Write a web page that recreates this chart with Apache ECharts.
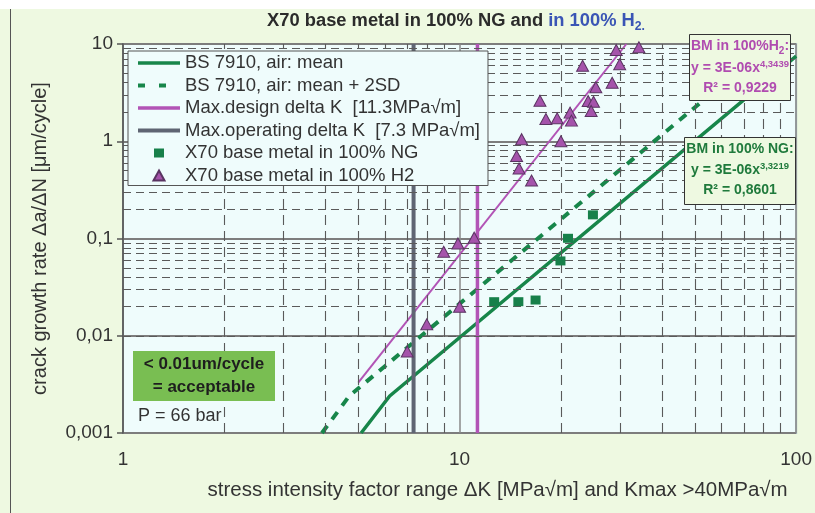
<!DOCTYPE html>
<html>
<head>
<meta charset="utf-8">
<script src="https://cdn.jsdelivr.net/npm/echarts@6/dist/echarts.min.js"></script>
<style>html,body{margin:0;padding:0;background:#fff}#c{width:815px;height:513px}</style>
</head>
<body>
<div id="c"></div>
<script>
// ---------- data ----------
const xRange = [1, 100];
const yRange = [0.001, 10];
const minorSteps = [2, 3, 4, 5, 6, 7, 8, 9];
const xDecades = [1, 10];
const yDecades = [0.001, 0.01, 0.1, 1];

const bsMean = [[5.1, 0.001], [6.2, 0.0024], [100, 7.5]];
const bsMean2SD = [[3.9, 0.001], [4.7, 0.0024], [84, 10]];
const designK = [[11.3, 0.001], [11.3, 10]];
const operatingK = [[7.3, 0.001], [7.3, 10]];
const h2Fit = [[5.0, 0.0033], [31.3, 10]];

const ngPoints = [
  [12.67, 0.0224], [14.95, 0.0224], [16.82, 0.0233],
  [19.94, 0.0588], [21.0, 0.1005], [24.9, 0.175]
];
const h2Points = [
  [6.99, 0.0069], [7.99, 0.0131], [10.0, 0.0199], [8.97, 0.073], [9.89, 0.089],
  [11.05, 0.102], [14.77, 0.705], [15.02, 0.525], [16.36, 0.394], [15.29, 1.05],
  [20.0, 1.0], [17.33, 2.61], [18.05, 1.69], [19.5, 1.72], [21.3, 1.97],
  [21.5, 1.63], [24.1, 2.59], [25.0, 2.55], [24.6, 2.05], [25.4, 3.59],
  [28.4, 4.0], [23.2, 5.98], [29.2, 8.68], [29.9, 6.18], [34.1, 9.25]
];

const names = {
  mean: 'BS 7910, air: mean',
  mean2: 'BS 7910, air: mean + 2SD',
  design: 'Max.design delta K  [11.3MPa\u221Am]',
  oper: 'Max.operating delta K  [7.3 MPa\u221Am]',
  ng: 'X70 base metal in 100% NG',
  h2: 'X70 base metal in 100% H2'
};

// ---------- styles ----------
const FONT = '"Liberation Sans", Arial, sans-serif';
const GREEN = '#17864a';
const PURPLE = '#b254b6';
const GREY = '#5f6573';
const TXT = '#333333';

const minorX = [];
xDecades.forEach(d => minorSteps.forEach(s => minorX.push(+(d * s).toPrecision(6))));
const minorY = [];
yDecades.forEach(d => minorSteps.forEach(s => minorY.push(+(d * s).toPrecision(6))));

const gridLineData = [
  ...minorX.map(v => ({ xAxis: v, lineStyle: { type: [10, 6] } })),
  ...minorY.map(v => ({ yAxis: v, lineStyle: { type: [8, 5] } }))
];

// legend icons: padded to the 42x10 icon box so shapes keep their size
const squareIcon = 'path://M0,0L0,0ZM42,10L42,10ZM16,0.5L26,0.5L26,9.5L16,9.5Z';
const triangleIcon = 'path://M0,0L0,0ZM42,10L42,10ZM21,0L26.5,10L15.5,10Z';

const chart = echarts.init(document.getElementById('c'), null, { renderer: 'canvas' });

const titleStr = 'X70 base metal in 100% NG and in 100% H2.';
const cv = document.createElement('canvas').getContext('2d');
cv.font = 'bold 18px "Liberation Sans"';
const titleScale = 383 / cv.measureText(titleStr).width;

const fmt = v => String(+(+v).toPrecision(6)).replace('.', ',');
const hideSym = { opacity: 0 };

const option = {
  backgroundColor: '#eef9e1',
  animation: false,
  textStyle: { fontFamily: FONT },
  grid: {
    left: 123, right: 16, top: 44, bottom: 80, show: true,
    backgroundColor: '#effcfc', borderColor: '#a9bcc4', borderWidth: 2
  },
  xAxis: {
    type: 'log', logBase: 10, min: xRange[0], max: xRange[1],
    axisLine: { show: false }, axisTick: { show: false },
    axisLabel: { fontSize: 19, color: TXT, margin: 17, fontFamily: FONT },
    splitLine: { show: true, lineStyle: { color: '#8a8a8a', width: 1.5 } },
    name: 'stress intensity factor range \u0394K [MPa\u221Am] and Kmax >40MPa\u221Am',
    nameLocation: 'middle', nameGap: 47,
    nameTextStyle: { fontSize: 20.5, color: TXT, fontFamily: FONT, padding: [0, 0, 0, 76] }
  },
  yAxis: {
    type: 'log', logBase: 10, min: yRange[0], max: yRange[1],
    axisLine: { show: true, lineStyle: { color: '#555', width: 1.5 } },
    axisTick: { show: true, length: 6, lineStyle: { color: '#555', width: 1.5 } },
    axisLabel: { fontSize: 19, color: TXT, margin: 10, fontFamily: FONT, formatter: fmt },
    splitLine: { show: true, lineStyle: { color: '#7d7d7d', width: 2 } },
    name: 'crack growth rate \u0394a/\u0394N [\u03BCm/cycle]',
    nameLocation: 'middle', nameGap: 73,
    nameTextStyle: { fontSize: 20, color: TXT, fontFamily: FONT }
  },
  legend: {
    orient: 'vertical', left: 128, top: 51, z: 20,
    padding: [2, 8, 0, 8], itemGap: 2.5, itemWidth: 42, itemHeight: 10,
    backgroundColor: '#effcfc', borderColor: '#555', borderWidth: 1, borderRadius: 0,
    textStyle: { fontSize: 18.5, color: TXT, fontFamily: FONT, lineHeight: 20 },
    lineStyle: { width: 'inherit' },
    selectedMode: false,
    data: [
      { name: names.mean, itemStyle: hideSym },
      { name: names.mean2, itemStyle: hideSym, lineStyle: { type: [7, 14] } },
      { name: names.design, itemStyle: hideSym },
      { name: names.oper, itemStyle: hideSym },
      { name: names.ng, icon: squareIcon },
      { name: names.h2, icon: triangleIcon }
    ]
  },
  series: [
    {
      name: 'grid', type: 'line', data: [], z: 1, silent: true,
      markLine: {
        silent: true, symbol: ['none', 'none'], label: { show: false },
        lineStyle: { color: '#5a5a5a', width: 1.1 },
        emphasis: { disabled: true },
        data: gridLineData
      }
    },
    {
      name: names.mean2, type: 'line', data: bsMean2SD, symbol: 'none', z: 3,
      lineStyle: { color: GREEN, width: 4, type: [9, 8] }, itemStyle: { color: GREEN }
    },
    {
      name: names.mean, type: 'line', data: bsMean, symbol: 'none', z: 3,
      lineStyle: { color: GREEN, width: 3.5 }, itemStyle: { color: GREEN }
    },
    {
      name: 'H2 fit', type: 'line', data: h2Fit, symbol: 'none', z: 3,
      lineStyle: { color: PURPLE, width: 2 }
    },
    {
      name: names.oper, type: 'line', data: operatingK, symbol: 'none', z: 3,
      lineStyle: { color: GREY, width: 4 }, itemStyle: { color: GREY }
    },
    {
      name: names.design, type: 'line', data: designK, symbol: 'none', z: 3,
      lineStyle: { color: PURPLE, width: 3.5 }, itemStyle: { color: PURPLE }
    },
    {
      name: names.ng, type: 'scatter', data: ngPoints, symbol: 'rect', symbolSize: [10, 9], z: 5,
      itemStyle: { color: '#17804a', opacity: 1 }
    },
    {
      name: names.h2, type: 'scatter', data: h2Points, symbol: 'triangle', symbolSize: [12, 11], z: 5,
      itemStyle: { color: '#a553ab', borderColor: '#5a3462', borderWidth: 1, opacity: 1 }
    }
  ],
  graphic: [
    { type: 'rect', shape: { x: 0, y: 0, width: 815, height: 9 }, style: { fill: '#ffffff' }, z: 100 },
    { type: 'rect', shape: { x: 10, y: 9, width: 1, height: 504 }, style: { fill: '#555' }, z: 100 },
    {
      type: 'text', x: 456, y: 21, scaleX: titleScale, z: 100,
      style: {
        text: '{a|X70 base metal in 100% NG and }{b|in 100% H}{c|2.}',
        align: 'center', verticalAlign: 'middle',
        rich: {
          a: { fontSize: 18, fontWeight: 'bold', fontFamily: FONT, fill: '#2b2b2b', lineHeight: 20 },
          b: { fontSize: 18, fontWeight: 'bold', fontFamily: FONT, fill: '#3a55b5', lineHeight: 20 },
          c: { fontSize: 12, fontWeight: 'bold', fontFamily: FONT, fill: '#3a55b5', lineHeight: 12, verticalAlign: 'top', padding: [10, 0, 0, 0] }
        }
      }
    },
    // H2 fit box
    { type: 'rect', z: 100, shape: { x: 689.5, y: 34.5, width: 101, height: 66 }, style: { fill: '#eef9e1', stroke: '#333', lineWidth: 1 } },
    {
      type: 'text', x: 740, y: 46, z: 101,
      style: {
        text: '{a|BM in 100%H}{s|2}{a|:}', align: 'center', verticalAlign: 'middle',
        rich: {
          a: { fontSize: 14, fontWeight: 'bold', fontFamily: FONT, fill: '#b04cb0', lineHeight: 16 },
          s: { fontSize: 10, fontWeight: 'bold', fontFamily: FONT, fill: '#b04cb0', lineHeight: 10, verticalAlign: 'top', padding: [8, 0, 0, 0] }
        }
      }
    },
    {
      type: 'text', x: 740, y: 68, z: 101,
      style: {
        text: '{a|y = 3E-06x}{p|4,3439}', align: 'center', verticalAlign: 'middle',
        rich: {
          a: { fontSize: 14, fontWeight: 'bold', fontFamily: FONT, fill: '#b04cb0', lineHeight: 18 },
          p: { fontSize: 9.5, fontWeight: 'bold', fontFamily: FONT, fill: '#b04cb0', lineHeight: 10, verticalAlign: 'top' }
        }
      }
    },
    {
      type: 'text', x: 740, y: 88, z: 101,
      style: { text: 'R\u00B2 = 0,9229', align: 'center', verticalAlign: 'middle', fontSize: 14, fontWeight: 'bold', fontFamily: FONT, fill: '#b04cb0' }
    },
    // NG fit box
    { type: 'rect', z: 100, shape: { x: 684.5, y: 137.5, width: 111, height: 67 }, style: { fill: '#eef9e1', stroke: '#333', lineWidth: 1 } },
    {
      type: 'text', x: 740, y: 149, z: 101,
      style: { text: 'BM in 100% NG:', align: 'center', verticalAlign: 'middle', fontSize: 14, fontWeight: 'bold', fontFamily: FONT, fill: '#1f7a3c' }
    },
    {
      type: 'text', x: 740, y: 170, z: 101,
      style: {
        text: '{a|y = 3E-06x}{p|3,3219}', align: 'center', verticalAlign: 'middle',
        rich: {
          a: { fontSize: 14, fontWeight: 'bold', fontFamily: FONT, fill: '#1f7a3c', lineHeight: 18 },
          p: { fontSize: 9.5, fontWeight: 'bold', fontFamily: FONT, fill: '#1f7a3c', lineHeight: 10, verticalAlign: 'top' }
        }
      }
    },
    {
      type: 'text', x: 740, y: 190, z: 101,
      style: { text: 'R\u00B2 = 0,8601', align: 'center', verticalAlign: 'middle', fontSize: 14, fontWeight: 'bold', fontFamily: FONT, fill: '#1f7a3c' }
    },
    // acceptable box
    { type: 'rect', z: 100, shape: { x: 133, y: 351, width: 142, height: 50 }, style: { fill: '#79be52' } },
    {
      type: 'text', x: 204, y: 364, z: 101,
      style: { text: '< 0.01um/cycle', align: 'center', verticalAlign: 'middle', fontSize: 17, fontWeight: 'bold', fontFamily: FONT, fill: '#1e1e1e' }
    },
    {
      type: 'text', x: 204, y: 387, z: 101,
      style: { text: '= acceptable', align: 'center', verticalAlign: 'middle', fontSize: 17, fontWeight: 'bold', fontFamily: FONT, fill: '#1e1e1e' }
    },
    {
      type: 'text', x: 138, y: 416, z: 101,
      style: { text: 'P = 66 bar', align: 'left', verticalAlign: 'middle', fontSize: 18, fontFamily: FONT, fill: TXT }
    }
  ]
};
chart.setOption(option);
</script>
</body>
</html>
